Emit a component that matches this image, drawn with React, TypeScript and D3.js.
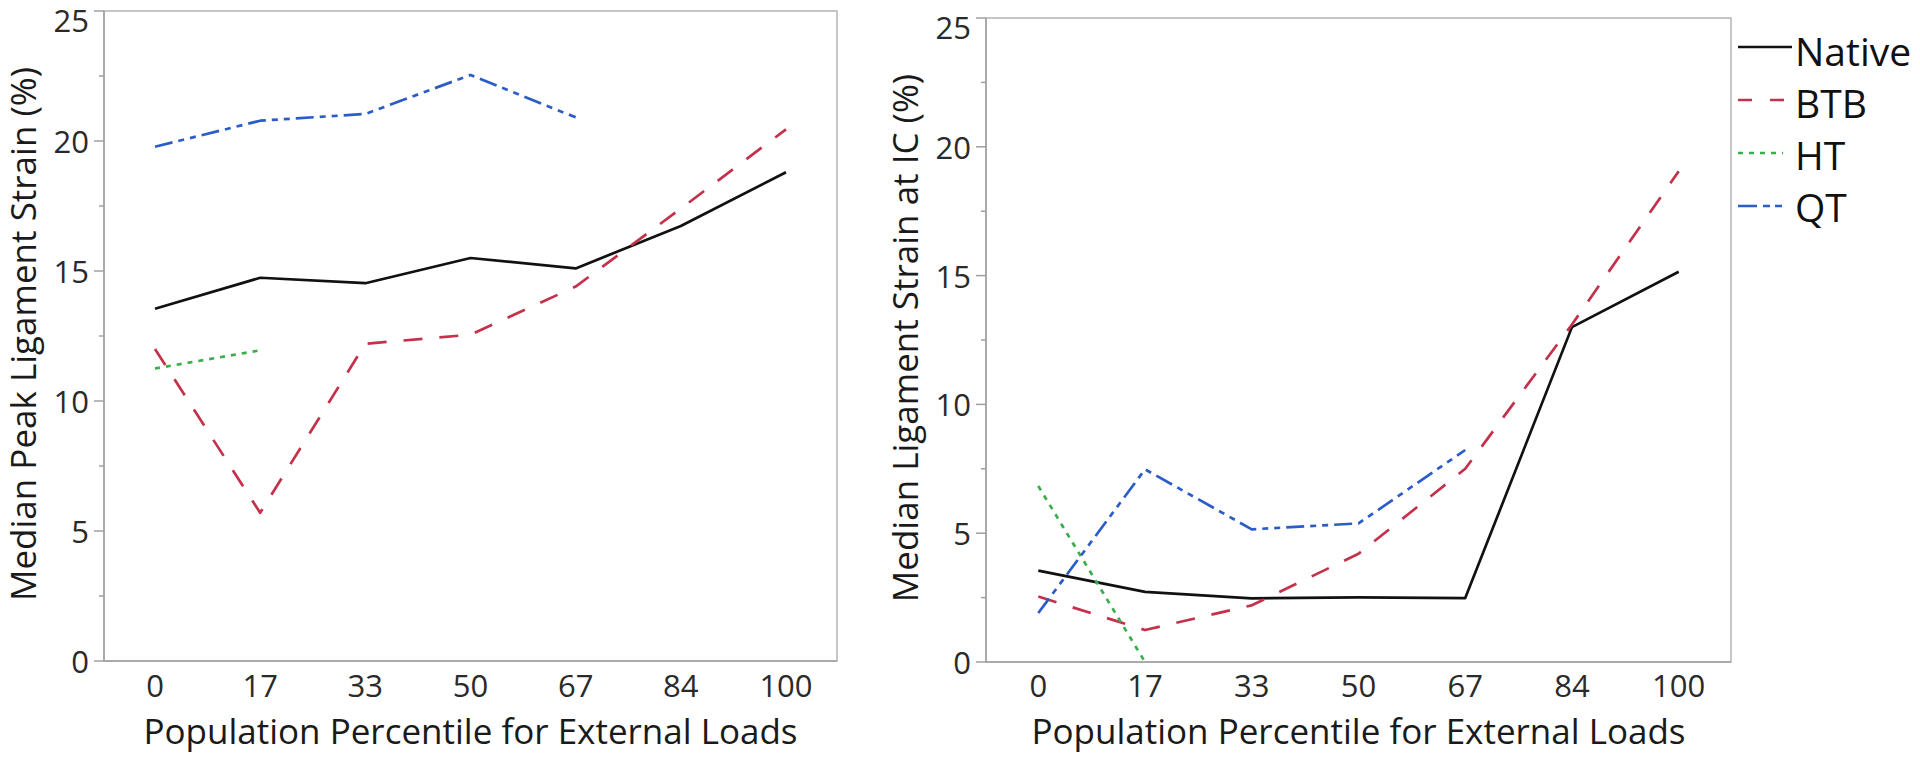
import React from "react";
import * as d3 from "d3";

// ---------- data ----------
const categories: string[] = ["0", "17", "33", "50", "67", "84", "100"];
const seriesNames: string[] = ["Native", "BTB", "HT", "QT"];

// Left panel: Median Peak Ligament Strain (%)
const nativePeak: (number | null)[] = [13.55, 14.74, 14.53, 15.5, 15.1, 16.73, 18.8];
const btbPeak: (number | null)[] = [12.0, 5.7, 12.2, 12.55, 14.4, 17.4, 20.45];
const htPeak: (number | null)[] = [11.25, 11.95, null, null, null, null, null];
const qtPeak: (number | null)[] = [19.78, 20.78, 21.04, 22.54, 20.91, null, null];

// Right panel: Median Ligament Strain at IC (%)
const nativeIC: (number | null)[] = [3.55, 2.72, 2.47, 2.51, 2.48, 13.0, 15.15];
const btbIC: (number | null)[] = [2.54, 1.24, 2.2, 4.2, 7.5, 13.1, 19.05];
const htIC: (number | null)[] = [6.83, 0, null, null, null, null, null];
const qtIC: (number | null)[] = [1.9, 7.48, 5.15, 5.38, 8.23, null, null];

const yMajorTicks: number[] = [0, 5, 10, 15, 20, 25];
const yMinorTicks: number[] = [2.5, 7.5, 12.5, 17.5, 22.5];

const xTitle = "Population Percentile for External Loads";
const leftYTitle = "Median Peak Ligament Strain (%)";
const rightYTitle = "Median Ligament Strain at IC (%)";

// ---------- styles ----------
const FONT = "'Open Sans', 'Noto Sans', sans-serif";
const styles: Record<string, { color: string; dash: string; legendDash: string; legendLen: number }> = {
  Native: { color: "#111111", dash: "none", legendDash: "none", legendLen: 54 },
  BTB: { color: "#c4314b", dash: "19,17", legendDash: "14,18", legendLen: 50 },
  HT: { color: "#3aae4a", dash: "5,6", legendDash: "5,6", legendLen: 45 },
  QT: { color: "#2b5cc8", dash: "18,6,6,6,6,6", legendDash: "19,6,7,5,7", legendLen: 44 },
};

type Panel = {
  id: string;
  x0: number;
  x1: number;
  y0: number; // top
  y1: number; // bottom
  padding: number;
  yTitle: string;
  yTitleX: number;
  yTitleY: number;
  data: Record<string, (number | null)[]>;
};

const panels: Panel[] = [
  {
    id: "left",
    x0: 104,
    x1: 837,
    y0: 11,
    y1: 661,
    padding: 0.485,
    yTitle: leftYTitle,
    yTitleX: 36,
    yTitleY: 334,
    data: { Native: nativePeak, BTB: btbPeak, HT: htPeak, QT: qtPeak },
  },
  {
    id: "right",
    x0: 986,
    x1: 1731,
    y0: 18,
    y1: 662,
    padding: 0.49,
    yTitle: rightYTitle,
    yTitleX: 918,
    yTitleY: 338,
    data: { Native: nativeIC, BTB: btbIC, HT: htIC, QT: qtIC },
  },
];

function PanelView({ p }: { p: Panel }) {
  const x = d3.scalePoint<string>().domain(categories).range([p.x0, p.x1]).padding(p.padding);
  const y = d3.scaleLinear().domain([0, 25]).range([p.y1, p.y0]);
  const line = d3
    .line<number | null>()
    .defined((d) => d !== null)
    .x((_, i) => x(categories[i]) as number)
    .y((d) => y(d as number));
  const clipId = `clip-${p.id}`;
  const axisColor = "#a0a0a0";
  return (
    <g>
      <defs>
        <clipPath id={clipId}>
          <rect x={p.x0} y={p.y0} width={p.x1 - p.x0} height={p.y1 - p.y0} />
        </clipPath>
      </defs>
      {/* frame */}
      <rect
        x={p.x0}
        y={p.y0}
        width={p.x1 - p.x0}
        height={p.y1 - p.y0}
        fill="white"
        stroke="#b4b4b4"
        strokeWidth={1.5}
      />
      <line x1={p.x0} x2={p.x0} y1={p.y0} y2={p.y1} stroke={axisColor} strokeWidth={1.5} />
      <line x1={p.x0} x2={p.x1} y1={p.y1} y2={p.y1} stroke={axisColor} strokeWidth={1.5} />
      {/* y ticks */}
      {yMajorTicks.map((t) => (
        <g key={`M${t}`}>
          <line x1={p.x0 - 10} x2={p.x0} y1={y(t)} y2={y(t)} stroke={axisColor} strokeWidth={1.5} />
          <text
            x={p.x0 - 15}
            y={y(t) + (t === 25 ? 9 : 0)}
            textAnchor="end"
            dominantBaseline="central"
            fontFamily={FONT}
            fontSize={31}
            fill="#2a2a2a"
          >
            {t}
          </text>
        </g>
      ))}
      {yMinorTicks.map((t) => (
        <line key={`m${t}`} x1={p.x0 - 5} x2={p.x0} y1={y(t)} y2={y(t)} stroke={axisColor} strokeWidth={1.5} />
      ))}
      {/* x tick labels */}
      {categories.map((c) => (
        <text
          key={c}
          x={x(c) as number}
          y={697}
          textAnchor="middle"
          fontFamily={FONT}
          fontSize={31}
          fill="#2a2a2a"
        >
          {c}
        </text>
      ))}
      {/* series */}
      <g clipPath={`url(#${clipId})`}>
        {seriesNames.map((s) => (
          <path
            key={s}
            d={line(p.data[s]) || ""}
            fill="none"
            stroke={styles[s].color}
            strokeWidth={2.7}
            strokeDasharray={styles[s].dash}
            strokeLinejoin="round"
          />
        ))}
      </g>
      {/* titles */}
      <text
        x={(p.x0 + p.x1) / 2}
        y={744}
        textAnchor="middle"
        fontFamily={FONT}
        fontSize={35}
        fill="#1a1a1a"
      >
        {xTitle}
      </text>
      <text
        transform={`translate(${p.yTitleX},${p.yTitleY}) rotate(-90)`}
        textAnchor="middle"
        fontFamily={FONT}
        fontSize={35}
        fill="#1a1a1a"
      >
        {p.yTitle}
      </text>
    </g>
  );
}

function Legend() {
  const lx = 1738;
  return (
    <g>
      {seriesNames.map((s, i) => {
        const ly = 47 + 53 * i;
        const by = 66 + 52 * i;
        return (
          <g key={s}>
            <line
              x1={lx}
              x2={lx + styles[s].legendLen}
              y1={ly}
              y2={ly}
              stroke={styles[s].color}
              strokeWidth={2.6}
              strokeDasharray={styles[s].legendDash}
            />
            <text x={1795} y={by} fontFamily={FONT} fontSize={39} fill="#111">
              {s}
            </text>
          </g>
        );
      })}
    </g>
  );
}

export default function App() {
  return (
    <svg
      width={1920}
      height={769}
      viewBox="0 0 1920 769"
      style={{ position: "absolute", left: 0, top: 0, background: "white" }}
    >
      <rect x={0} y={0} width={1920} height={769} fill="white" />
      {panels.map((p) => (
        <PanelView key={p.id} p={p} />
      ))}
      <Legend />
    </svg>
  );
}
